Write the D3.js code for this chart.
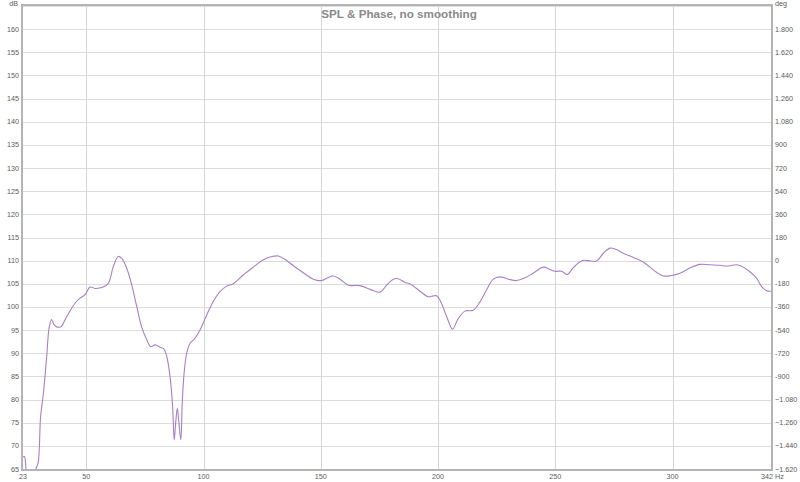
<!DOCTYPE html>
<html><head><meta charset="utf-8">
<script src="https://cdn.jsdelivr.net/npm/d3@7"></script>
<style>body{margin:0;background:#fff}svg{display:block}</style>
</head><body>
<svg id="c" width="800" height="482"></svg>
<script>
const title = "SPL & Phase, no smoothing";
const freqTicks = [50, 100, 150, 200, 250, 300];
const dbTicks = [65,70,75,80,85,90,95,100,105,110,115,120,125,130,135,140,145,150,155,160];
const degTicks = [-1620,-1440,-1260,-1080,-900,-720,-540,-360,-180,0,180,360,540,720,900,1080,1260,1440,1620,1800];
const freq = [23,23.6,24.3,25,26.5,28,28.5,29.5,30.5,31.7,33.1,34.2,35.2,36.2,37.4,39.1,41.6,45.2,47.3,49.4,51.6,53.7,57.2,59.4,61.5,63.6,65.1,67.2,69.4,71.5,73.6,75.8,77.5,79.3,81.4,83.1,84.3,85.7,86.8,87.5,88.1,88.8,89.5,90.3,90.9,91.7,92.8,94.2,96.3,98.5,100.6,103.5,107,109.9,112.7,116.9,121.2,125.5,129.1,131.9,134.7,138.3,142.5,146.8,150.4,152.5,155.3,158.2,161.7,166.7,171,175.2,178.1,180.9,183,185.9,188,192.3,195.8,198,199.4,200.8,203.7,206.2,208.6,211.5,215,217.9,220.7,223.6,226.4,230,233.5,237.1,240.6,244.9,247.7,249.9,252.7,255.1,257.7,261.3,264.1,267.6,270.5,273.3,275.5,279,283.3,287.5,290.4,293.2,296,299.6,303.2,307.4,311.7,316,320.2,323.1,327.3,330.2,333,335.9,338,340.1,342];
const spl = [67.6,67.7,65.0,62.5,62,63,65,66.5,76.3,81.3,89.3,95.7,97.3,96.2,95.7,95.7,97.9,100.8,101.9,102.6,104.3,104.0,104.3,105.1,108.7,110.9,110.5,108.4,104.7,100.1,95.7,92.9,91.4,91.8,91.3,90.9,89.3,85.0,78.5,71.3,74.9,78.1,74.9,71.3,79.2,85.7,90.0,92.1,93.2,95.0,97.4,100.6,103.3,104.5,105.0,106.9,108.6,110.2,110.9,111.0,110.3,108.9,107.4,106.0,105.7,106.2,106.7,106.0,104.7,104.6,103.8,103.2,104.7,106.0,106.1,105.3,105.0,103.4,102.2,102.4,102.4,101.5,97.9,95.2,97.5,99.1,99.3,101.1,103.7,106.0,106.5,106.0,105.7,106.3,107.3,108.6,108.1,107.7,107.7,107.0,108.5,110.0,110.0,109.9,111.6,112.7,112.5,111.6,110.7,109.7,108.6,107.5,106.7,106.8,107.3,108.4,109.2,109.1,109.0,108.8,109.1,108.6,107.6,106.2,104.4,103.5,103.4];

const svg = d3.select("#c");
const x = d3.scaleLinear().domain([23, 342]).range([23, 771]);
const y = d3.scaleLinear().domain([65, 165]).range([469, 6]);
const yr = d3.scaleLinear().domain([-1620, 1980]).range([469, 6]);
const font = "'Liberation Sans',Arial,sans-serif";

// grid
const g = svg.append("g");
g.selectAll(".hg").data(dbTicks.concat([165])).enter().append("line")
  .attr("x1", 23).attr("x2", 771)
  .attr("y1", d => Math.round(y(d)) + 0.5).attr("y2", d => Math.round(y(d)) + 0.5)
  .attr("stroke", "#dcdcdc").attr("stroke-width", 1);
g.selectAll(".vg").data(freqTicks).enter().append("line")
  .attr("y1", 6).attr("y2", 469)
  .attr("x1", d => Math.round(x(d)) + 0.5).attr("x2", d => Math.round(x(d)) + 0.5)
  .attr("stroke", "#d6d6d6").attr("stroke-width", 1);

// curve
svg.append("clipPath").attr("id", "clip").append("rect")
  .attr("x", 23).attr("y", 6).attr("width", 748).attr("height", 463);
const pts = freq.map((f, i) => [f, spl[i]]);
const line = d3.line().x(d => x(d[0])).y(d => y(d[1])).curve(d3.curveCatmullRom.alpha(0.5));
svg.append("path").datum(pts).attr("d", line)
  .attr("clip-path", "url(#clip)")
  .attr("fill", "none").attr("stroke", "#a77fcc").attr("stroke-width", 1.1);

// frame
svg.append("rect").attr("x", 22).attr("y", 5).attr("width", 750).attr("height", 465)
  .attr("fill", "none").attr("stroke", "#b4b4b4").attr("stroke-width", 2);

// left axis labels
const ax = svg.append("g").attr("font-family", font).attr("font-size", 7.2).attr("fill", "#5a5a5a");
ax.selectAll(".l").data(dbTicks).enter().append("text")
  .attr("x", 19).attr("y", d => y(d) + 2.5).attr("text-anchor", "end").text(d => d);
ax.append("text").attr("x", 18).attr("y", 6).attr("text-anchor", "end").text("dB");
// right axis labels
const fmt = d => Math.abs(d) >= 1000 ? d3.format(",")(d).replace(",", ".") : String(d);
ax.selectAll(".r").data(degTicks).enter().append("text")
  .attr("x", 775).attr("y", d => yr(d) + 2.5).attr("text-anchor", "start").text(fmt);
ax.append("text").attr("x", 775).attr("y", 6).attr("text-anchor", "start").text("deg");
// bottom labels
ax.selectAll(".b").data(freqTicks).enter().append("text")
  .attr("x", d => x(d)).attr("y", 479).attr("text-anchor", "middle").text(d => d);
ax.append("text").attr("x", 23).attr("y", 479).attr("text-anchor", "middle").text("23");
ax.append("text").attr("x", 761).attr("y", 479).attr("text-anchor", "start").text("342 Hz");

// title
svg.append("text").attr("x", 399).attr("y", 18).attr("text-anchor", "middle")
  .attr("font-family", font).attr("font-size", 11.7).attr("font-weight", "bold")
  .attr("fill", "#8a8a8a").text(title);
</script>
</body></html>
